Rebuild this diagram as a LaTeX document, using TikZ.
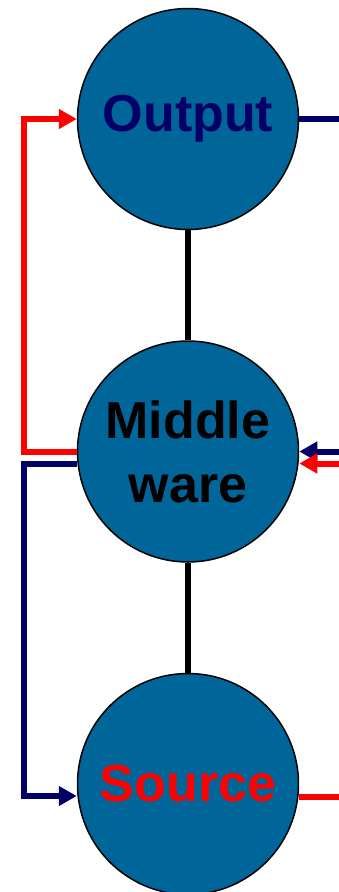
\documentclass[tikz,border=0pt]{standalone}
\usepackage{fontspec}
\setmainfont{Liberation Sans}
\usepackage{xcolor}
\usepackage{tikz}
\usetikzlibrary{arrows.meta,positioning}
\definecolor{unitblue}{RGB}{0,102,153}
\definecolor{navyline}{RGB}{0,0,102}
\definecolor{redline}{RGB}{255,0,0}

\begin{document}
\begin{tikzpicture}[
    x=1pt, y=-1pt,
    node distance=110pt,
    unit/.style={circle, draw, line width=1.5pt, fill=unitblue, minimum size=221pt, inner sep=0pt, align=center, font=\fontsize{52}{64}\selectfont\bfseries},
    link/.style={line width=6.5pt},
    arrow/.style={line width=6pt, -{Triangle[length=18pt, width=19pt]}}
]
\useasboundingbox (0,0) rectangle (339,892);
\node[unit, text=navyline] (out) at (188,119) {Output};
\node[unit, below=of out] (mid) {Middle\\ware};
\node[unit, below=of mid, text=redline] (src) {Source};
\coordinate (rightedge) at (345,0);
\draw[link] (out) -- (mid);
\draw[link] (mid) -- (src);
\draw[arrow, redline] (mid.west) -- ++(-53,0) |- (out.west);
\draw[arrow, navyline] ([yshift=-12pt]mid.west) -- ++(-53,0) |- ([yshift=-12pt]src.west);
\draw[link, line width=6pt, navyline] (out.east) -- (out.east -| rightedge);
\draw[arrow, navyline] (mid.east -| rightedge) -- (mid.east);
\draw[arrow, redline] ([yshift=-12pt]mid.east -| rightedge) -- ([yshift=-12pt]mid.east);
\draw[link, line width=6pt, redline] ([yshift=-13pt]src.east) -- ([yshift=-13pt]src.east -| rightedge);
\end{tikzpicture}
\end{document}
